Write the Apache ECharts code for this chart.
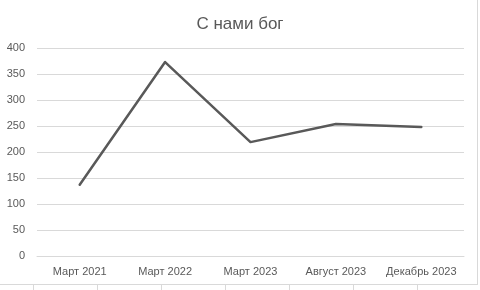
<!DOCTYPE html>
<html>
<head>
<meta charset="utf-8">
<script src="https://cdn.jsdelivr.net/npm/echarts@6/dist/echarts.min.js"></script>
<style>html,body{margin:0;padding:0;background:#fff}#c{width:480px;height:290px}</style>
</head>
<body>
<div id="c"></div>
<script>
const titleText = 'С нами бог';
const categories = ['Март 2021', 'Март 2022', 'Март 2023', 'Август 2023', 'Декабрь 2023'];
const values = [137, 373, 219, 254, 248];
const yTicks = [0, 50, 100, 150, 200, 250, 300, 350, 400];

const chart = echarts.init(document.getElementById('c'), null, {renderer: 'canvas'});
const font = '"Liberation Sans", Arial, sans-serif';
const cellXs = [33, 97, 161, 225, 289, 353, 417];
const graphics = [
  {type: 'line', shape: {x1: 477.5, y1: 0, x2: 477.5, y2: 285}, style: {stroke: '#d9d9d9', lineWidth: 1}, silent: true},
  {type: 'line', shape: {x1: 0, y1: 284.5, x2: 478, y2: 284.5}, style: {stroke: '#d9d9d9', lineWidth: 1}, silent: true}
];
cellXs.forEach(x => graphics.push({type: 'line', shape: {x1: x + 0.5, y1: 285, x2: x + 0.5, y2: 290}, style: {stroke: '#d9d9d9', lineWidth: 1}, silent: true}));

chart.setOption({
  animation: false,
  title: {
    text: titleText, left: 'center', top: 11,
    textStyle: {fontFamily: font, fontSize: 17, fontWeight: 'normal', color: '#595959'}
  },
  grid: {left: 37, right: 16, top: 48, bottom: 34, containLabel: false},
  xAxis: {
    type: 'category', data: categories, boundaryGap: true,
    axisLine: {show: true, lineStyle: {color: '#d9d9d9', width: 1}},
    axisTick: {show: false},
    axisLabel: {color: '#595959', fontFamily: font, fontSize: 11, margin: 10, interval: 0}
  },
  yAxis: {
    type: 'value', min: yTicks[0], max: yTicks[yTicks.length - 1], interval: yTicks[1] - yTicks[0],
    axisLine: {show: false}, axisTick: {show: false},
    splitLine: {lineStyle: {color: '#d9d9d9', width: 1}},
    axisLabel: {color: '#595959', fontFamily: font, fontSize: 11, margin: 12}
  },
  series: [{
    type: 'line', data: values, symbol: 'none',
    lineStyle: {color: '#595959', width: 2.5, cap: 'round', join: 'round'}
  }],
  graphic: graphics
});
</script>
</body>
</html>
